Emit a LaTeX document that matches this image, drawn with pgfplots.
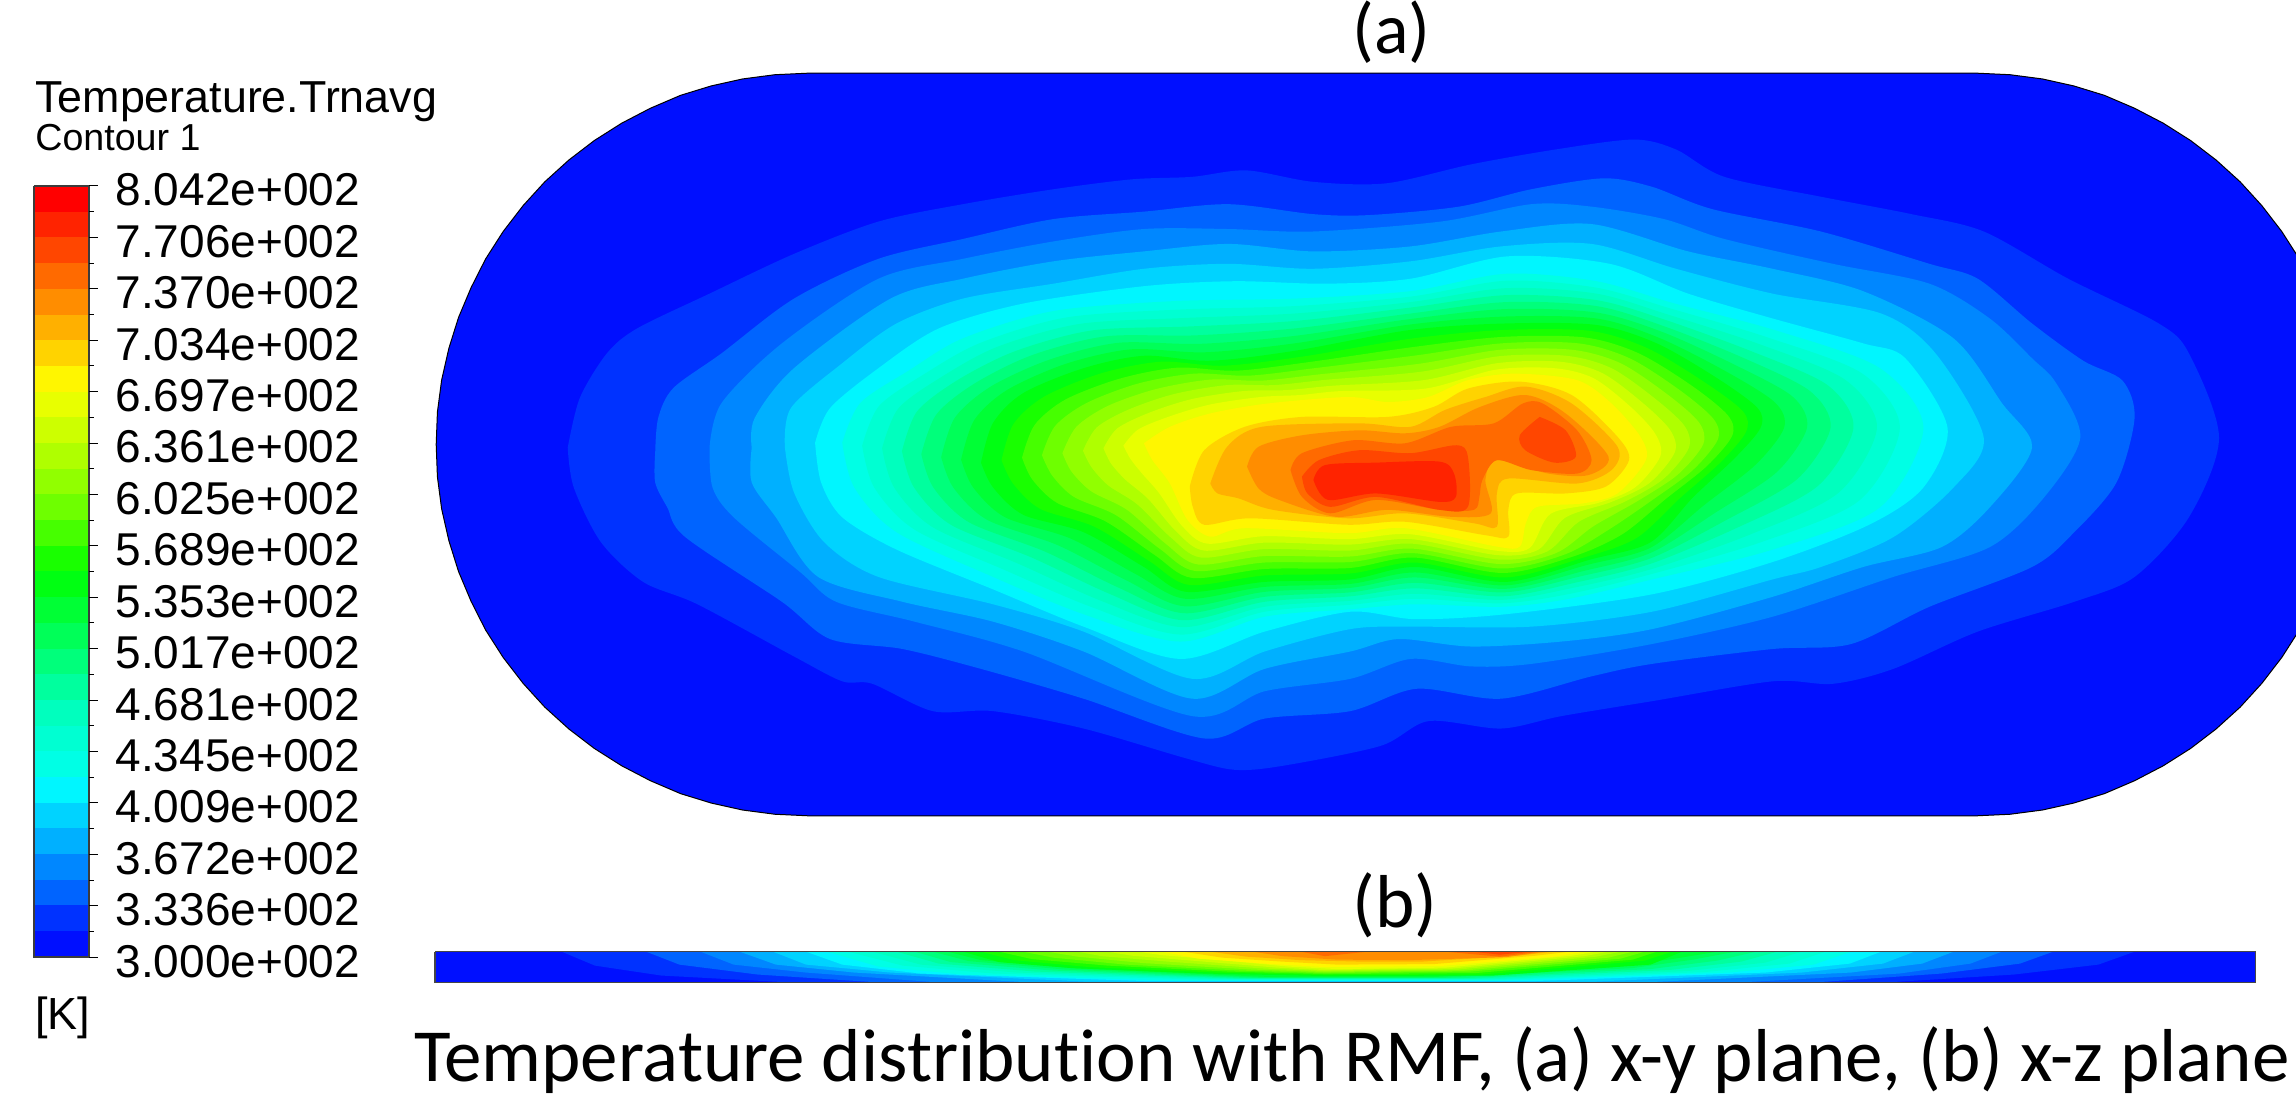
\documentclass[border=0pt]{standalone}
\usepackage{fontspec}
\setmainfont{Liberation Sans}
\newfontfamily\calfont[Ligatures=NoCommon]{Carlito}
\usepackage{pgfplots}
\pgfplotsset{compat=1.18}
\definecolor{c0}{RGB}{0,15,255}\definecolor{c1}{RGB}{0,50,255}\definecolor{c2}{RGB}{0,100,255}\definecolor{c3}{RGB}{0,135,255}\definecolor{c4}{RGB}{0,176,255}\definecolor{c5}{RGB}{0,211,255}\definecolor{c6}{RGB}{0,246,255}\definecolor{c7}{RGB}{0,255,229}\definecolor{c8}{RGB}{0,255,210}\definecolor{c9}{RGB}{0,255,190}\definecolor{c10}{RGB}{0,255,158}\definecolor{c11}{RGB}{0,255,123}\definecolor{c12}{RGB}{0,255,88}\definecolor{c13}{RGB}{0,255,53}\definecolor{c14}{RGB}{0,255,18}\definecolor{c15}{RGB}{25,255,0}\definecolor{c16}{RGB}{70,255,0}\definecolor{c17}{RGB}{110,255,0}\definecolor{c18}{RGB}{145,255,0}\definecolor{c19}{RGB}{175,255,0}\definecolor{c20}{RGB}{205,255,0}\definecolor{c21}{RGB}{232,255,0}\definecolor{c22}{RGB}{255,246,0}\definecolor{c23}{RGB}{255,211,0}\definecolor{c24}{RGB}{255,176,0}\definecolor{c25}{RGB}{255,141,0}\definecolor{c26}{RGB}{255,106,0}\definecolor{c27}{RGB}{255,70,0}\definecolor{c28}{RGB}{255,35,0}\definecolor{c29}{RGB}{255,0,0}
\newcommand\ring[2]{\addplot[fill=#1,draw=none,smooth,tension=0.5] coordinates {#2};}
\newcommand\poly[2]{\addplot[fill=#1,draw=none] coordinates {#2};}
\newcommand\band[3]{\addplot[fill=#1,draw=none] coordinates {(-640,#2)(-548.5,#2)(-548.5,#3)(-640,#3)};}
\newcommand\tick[2]{\addplot[black,line width=0.6pt] coordinates {(-548.5,#1)(#2,#1)};}
\newcommand\lab[2]{\node[anchor=base west,inner sep=0pt,font=\fontsize{23}{23}\selectfont] at (axis cs:-505,#1) {#2};}
\begin{document}
\begin{tikzpicture}
\begin{axis}[name=ax,hide axis,scale only axis,width=1148pt,height=549.5pt,xmin=-696,xmax=3109.6,ymin=-120.8,ymax=2090.4,y dir=reverse,clip=true]
\path (axis cs:-696,-120.8) rectangle (axis cs:3109.6,2090.4);
% stadium, x-y plane
\addplot[fill=c0,draw=black,line width=0.5pt] coordinates {(27,773.5)(29,708.5)(36,644)(48,580)(64,518)(85,457.5)(109,400)(138,345)(171,293)(207,245)(247,201)(289,162)(334.5,127)(382,97)(432,71)(483,52)(535,38)(588.5,29.5)(642,26.5)(2582,26.5)(2635.5,29.5)(2689,38)(2741,52)(2792,71)(2842,97)(2889.5,127)(2935,162)(2977,201)(3017,245)(3053,293)(3086,345)(3115,400)(3139,457.5)(3160,518)(3176,580)(3188,644)(3195,708.5)(3197,773.5)(3195,838.5)(3188,903)(3176,967)(3160,1029)(3139,1089.5)(3115,1147)(3086,1202)(3053,1254)(3017,1302)(2977,1346)(2935,1385)(2889.5,1420)(2842,1450)(2792,1476)(2741,1495)(2689,1509)(2635.5,1517.5)(2582,1520.5)(642,1520.5)(588.5,1517.5)(535,1509)(483,1495)(432,1476)(382,1450)(334.5,1420)(289,1385)(247,1346)(207,1302)(171,1254)(138,1202)(109,1147)(85,1089.5)(64,1029)(48,967)(36,903)(29,838.5)(27,773.5)};
\ring{c1}{(245,780)(265,680)(310,590)(360,540)(480,470)(620,390)(760,325)(900,290)(1050,260)(1180,240)(1280,235)(1370,222)(1480,245)(1602,248)(1742,210)(1882,180)(2012,160)(2082,180)(2162,235)(2322,275)(2472,310)(2592,345)(2732,440)(2882,530)(2932,590)(2982,760)(2932,920)(2842,1040)(2742,1090)(2582,1150)(2442,1225)(2342,1255)(2242,1250)(2042,1290)(1892,1320)(1792,1345)(1672,1330)(1592,1380)(1430,1420)(1350,1428)(1270,1405)(1100,1345)(950,1310)(850,1310)(750,1255)(700,1250)(620,1200)(460,1095)(370,1050)(300,970)(255,860)(245,780)}
\ring{c2}{(390,790)(395,720)(420,660)(500,590)(620,480)(760,400)(900,360)(1050,320)(1200,305)(1340,290)(1480,310)(1572,312)(1722,295)(1842,260)(1962,238)(2042,255)(2142,300)(2322,345)(2502,410)(2582,440)(2672,530)(2757,605)(2822,645)(2842,720)(2812,850)(2742,950)(2672,1020)(2502,1100)(2372,1175)(2242,1185)(2042,1215)(1942,1240)(1792,1285)(1652,1265)(1542,1310)(1400,1325)(1300,1365)(1100,1285)(930,1225)(800,1185)(680,1165)(600,1090)(440,960)(410,900)(390,850)(390,790)}
\ring{c3}{(480,780)(500,690)(600,570)(760,440)(900,400)(1050,365)(1200,340)(1340,340)(1480,345)(1692,325)(1842,290)(1942,295)(2062,320)(2162,360)(2342,410)(2502,450)(2602,520)(2672,600)(2712,650)(2752,760)(2692,880)(2602,980)(2442,1040)(2242,1120)(2042,1175)(1842,1215)(1742,1220)(1642,1205)(1542,1245)(1400,1270)(1280,1320)(1000,1190)(820,1130)(690,1090)(630,1030)(520,920)(485,860)(480,780)}
\ring{c4}{(550,780)(555,720)(620,620)(780,480)(900,440)(1050,405)(1200,385)(1340,370)(1480,385)(1642,375)(1792,345)(1942,330)(2102,385)(2242,420)(2392,465)(2542,560)(2622,690)(2672,780)(2602,900)(2522,980)(2392,1020)(2242,1080)(2042,1145)(1892,1170)(1742,1180)(1622,1165)(1542,1190)(1400,1225)(1280,1285)(1100,1190)(950,1130)(800,1090)(660,1040)(590,920)(550,850)(550,780)}
\ring{c5}{(605,780)(615,700)(700,610)(790,530)(900,480)(1050,450)(1200,420)(1340,410)(1480,420)(1642,405)(1792,375)(1942,370)(2082,420)(2242,470)(2422,510)(2512,590)(2592,760)(2542,860)(2442,960)(2322,1020)(2242,1045)(2042,1110)(1842,1140)(1642,1140)(1542,1145)(1400,1190)(1280,1245)(1100,1150)(950,1095)(760,1040)(670,970)(620,870)(605,780)}
\ring{c6}{(655,770)(680,700)(760,620)(860,540)(1000,490)(1200,455)(1350,445)(1500,450)(1642,440)(1802,395)(1972,410)(2102,470)(2242,520)(2392,570)(2462,600)(2532,740)(2492,860)(2402,935)(2242,1010)(2042,1075)(1800,1115)(1650,1125)(1542,1110)(1400,1150)(1260,1205)(1100,1140)(950,1065)(790,985)(700,920)(665,850)(655,770)}
\ring{c7}{(700,770)(730,690)(810,625)(900,560)(1050,505)(1250,485)(1450,480)(1642,465)(1800,430)(1950,445)(2080,490)(2250,545)(2420,620)(2492,740)(2420,900)(2242,985)(2042,1045)(1900,1085)(1792,1100)(1650,1095)(1542,1105)(1400,1120)(1260,1170)(1100,1115)(950,1040)(790,950)(720,860)(700,770)}
\ring{c8}{(733,776)(761,696)(837,631)(929,569)(1071,518)(1259,502)(1450,495)(1642,476)(1800,444)(1950,458)(2076,501)(2236,559)(2391,631)(2453,740)(2386,886)(2223,970)(2042,1034)(1906,1074)(1793,1093)(1650,1084)(1542,1096)(1400,1110)(1261,1156)(1114,1101)(971,1027)(820,945)(753,860)(733,776)}
\ring{c9}{(766,781)(793,701)(864,638)(957,577)(1093,531)(1267,519)(1450,510)(1642,487)(1800,459)(1950,470)(2071,513)(2221,572)(2362,643)(2415,740)(2351,871)(2204,955)(2042,1024)(1911,1062)(1794,1086)(1650,1074)(1542,1088)(1400,1100)(1263,1141)(1129,1088)(993,1014)(850,940)(786,860)(766,781)}
\ring{c10}{(799,787)(824,707)(891,644)(986,586)(1114,544)(1276,536)(1450,525)(1642,498)(1800,473)(1950,483)(2067,524)(2207,586)(2333,654)(2376,740)(2317,857)(2185,940)(2041,1013)(1917,1051)(1795,1079)(1650,1063)(1542,1079)(1400,1090)(1264,1127)(1143,1074)(1014,1001)(880,935)(819,860)(799,787)}
\ring{c11}{(831,793)(856,713)(919,651)(1014,594)(1136,556)(1284,554)(1450,540)(1642,510)(1800,487)(1950,495)(2063,536)(2193,599)(2304,666)(2338,740)(2283,843)(2166,925)(2041,1002)(1923,1039)(1797,1071)(1650,1052)(1542,1071)(1400,1080)(1266,1113)(1157,1061)(1036,989)(910,930)(851,860)(831,793)}
\ring{c12}{(864,799)(887,719)(946,657)(1043,603)(1157,569)(1293,571)(1450,555)(1642,521)(1800,501)(1950,508)(2059,547)(2179,613)(2275,677)(2299,740)(2249,829)(2148,910)(2041,991)(1929,1028)(1798,1064)(1650,1041)(1542,1062)(1400,1070)(1267,1099)(1171,1047)(1057,976)(940,925)(884,860)(864,799)}
\ring{c13}{(897,804)(919,724)(973,664)(1071,611)(1179,582)(1301,588)(1450,570)(1642,532)(1800,516)(1950,520)(2054,559)(2164,626)(2246,689)(2261,740)(2214,814)(2129,895)(2040,981)(1934,1016)(1799,1057)(1650,1031)(1542,1054)(1400,1060)(1269,1084)(1186,1034)(1079,963)(970,920)(917,860)(897,804)}
\ring{c14}{(930,810)(950,730)(1000,670)(1100,620)(1200,595)(1310,605)(1450,585)(1642,543)(1800,530)(1950,533)(2050,570)(2150,640)(2217,700)(2222,740)(2180,800)(2110,880)(2040,970)(1940,1005)(1800,1050)(1650,1020)(1542,1045)(1400,1050)(1270,1070)(1200,1020)(1100,950)(1000,915)(950,860)(930,810)}
\ring{c15}{(964,805)(984,732)(1035,677)(1130,630)(1228,607)(1331,615)(1461,597)(1646,560)(1798,543)(1940,545)(2035,580)(2129,648)(2193,707)(2198,748)(2156,809)(2088,882)(2016,962)(1926,1002)(1798,1041)(1649,1011)(1542,1033)(1400,1037)(1275,1056)(1209,1008)(1118,939)(1028,903)(983,852)(964,805)}
\ring{c16}{(998,800)(1019,734)(1070,683)(1160,641)(1255,619)(1353,625)(1472,608)(1649,577)(1795,557)(1930,558)(2020,590)(2109,656)(2168,715)(2175,756)(2133,817)(2065,883)(1993,954)(1911,999)(1795,1032)(1648,1001)(1541,1022)(1400,1024)(1280,1042)(1218,996)(1136,928)(1056,891)(1015,844)(998,800)}
\ring{c17}{(1031,795)(1053,736)(1105,690)(1190,651)(1283,631)(1374,635)(1483,620)(1653,594)(1793,570)(1920,570)(2005,600)(2088,664)(2144,722)(2151,764)(2109,826)(2043,885)(1969,946)(1897,995)(1793,1023)(1646,992)(1541,1010)(1400,1011)(1285,1028)(1227,984)(1154,916)(1084,879)(1048,836)(1031,795)}
\ring{c18}{(1065,791)(1088,738)(1140,696)(1220,662)(1310,643)(1395,645)(1494,632)(1657,611)(1790,583)(1910,583)(1990,610)(2068,673)(2120,729)(2127,773)(2085,834)(2020,886)(1945,938)(1883,992)(1790,1014)(1645,983)(1540,999)(1400,998)(1290,1015)(1236,973)(1172,905)(1113,868)(1080,828)(1065,791)}
\ring{c19}{(1099,786)(1122,739)(1175,703)(1250,672)(1338,654)(1416,654)(1505,643)(1660,627)(1788,596)(1900,595)(1975,620)(2047,681)(2096,736)(2103,781)(2061,843)(1998,888)(1921,929)(1868,989)(1788,1005)(1644,973)(1540,987)(1400,984)(1295,1001)(1245,961)(1189,894)(1141,856)(1113,819)(1099,786)}
\ring{c20}{(1133,781)(1156,741)(1210,709)(1280,682)(1365,666)(1438,664)(1516,655)(1664,644)(1785,610)(1890,607)(1960,630)(2026,689)(2072,744)(2080,789)(2038,851)(1975,889)(1898,921)(1854,985)(1785,996)(1643,964)(1539,975)(1400,971)(1300,987)(1254,949)(1207,883)(1169,844)(1145,811)(1133,781)}
\ring{c21}{(1166,776)(1191,743)(1245,716)(1310,693)(1393,678)(1459,674)(1527,666)(1667,661)(1783,623)(1880,620)(1945,640)(2006,697)(2047,751)(2056,797)(2014,860)(1953,891)(1874,913)(1839,982)(1783,987)(1641,954)(1539,964)(1400,958)(1305,973)(1263,937)(1225,871)(1197,832)(1178,803)(1166,776)}
\ring{c22}{(1200,771)(1243,738)(1310,711)(1405,691)(1538,678)(1604,688)(1671,678)(1737,644)(1814,631)(1918,644)(1975,691)(2023,758)(2032,805)(1985,872)(1928,892)(1852,899)(1833,932)(1823,979)(1785,979)(1633,942)(1538,952)(1367,942)(1310,959)(1272,925)(1243,852)(1214,805)(1200,771)}
\ring{c23}{(1276,858)(1300,785)(1367,738)(1462,718)(1604,718)(1680,698)(1737,661)(1823,647)(1909,674)(1985,758)(2004,805)(1966,858)(1899,872)(1818,872)(1804,905)(1804,959)(1766,956)(1633,929)(1538,935)(1376,922)(1300,935)(1281,899)(1276,858)}
\ring{c24}{(1310,852)(1338,778)(1395,738)(1557,731)(1642,738)(1699,704)(1766,678)(1833,657)(1909,691)(1985,778)(1975,825)(1918,852)(1804,842)(1785,872)(1785,939)(1747,932)(1633,912)(1538,922)(1414,905)(1357,882)(1322,872)(1310,852)}
\ring{c25}{(1371,818)(1390,778)(1462,755)(1557,745)(1633,751)(1690,738)(1757,698)(1833,674)(1899,711)(1970,798)(1937,835)(1870,832)(1785,805)(1766,845)(1775,912)(1709,919)(1604,905)(1518,919)(1424,885)(1390,862)(1371,818)}
\ring{c26}{(1443,825)(1462,791)(1547,765)(1633,771)(1709,738)(1780,731)(1828,691)(1861,691)(1918,745)(1942,805)(1918,832)(1842,825)(1785,805)(1761,845)(1756,879)(1747,905)(1690,905)(1585,885)(1509,912)(1462,879)(1443,825)}
\ring{c27}{(1462,838)(1490,805)(1557,785)(1642,791)(1718,775)(1737,798)(1737,899)(1690,905)(1585,879)(1509,899)(1471,872)(1462,838)}
\ring{c27}{(1856,718)(1899,745)(1916,798)(1880,810)(1832,785)(1823,755)(1856,718)}
\ring{c28}{(1481,845)(1500,815)(1585,810)(1690,808)(1714,832)(1717,879)(1690,889)(1585,872)(1505,885)(1481,845)}
% strip, x-z plane
\poly{c0}{(25,1794)(3042,1794)(3042,1856)(25,1856)}
\poly{c1}{(235,1794)(290,1822)(400,1842)(600,1855)(2442,1855)(2642,1840)(2782,1820)(2842,1794)}
\poly{c2}{(375,1794)(430,1820)(560,1840)(750,1855)(2322,1855)(2522,1838)(2652,1818)(2707,1794)}
\poly{c3}{(465,1794)(520,1820)(640,1836)(850,1855)(2200,1855)(2452,1838)(2570,1818)(2622,1794)}
\poly{c4}{(530,1794)(590,1820)(720,1836)(1000,1855)(2042,1855)(2372,1836)(2490,1818)(2542,1794)}
\poly{c5}{(585,1794)(640,1820)(780,1836)(1100,1854)(1950,1854)(2290,1836)(2425,1818)(2477,1794)}
\poly{c6}{(640,1794)(700,1820)(830,1838)(1200,1853)(1850,1853)(2230,1836)(2370,1818)(2422,1794)}
\poly{c7}{(675,1794)(760,1824)(900,1840)(1250,1852)(1800,1852)(2170,1836)(2310,1820)(2372,1794)}
\poly{c8}{(710,1794)(800,1822)(950,1838)(1290,1850)(1800,1850)(2130,1835)(2270,1818)(2330,1794)}
\poly{c9}{(750,1794)(830,1820)(990,1836)(1320,1849)(1780,1849)(2100,1833)(2230,1816)(2290,1794)}
\poly{c10}{(790,1794)(860,1818)(1020,1834)(1350,1848)(1750,1848)(2070,1831)(2190,1814)(2250,1794)}
\poly{c11}{(820,1794)(880,1815)(1050,1832)(1370,1847)(1730,1847)(2040,1829)(2150,1812)(2215,1794)}
\poly{c12}{(850,1794)(910,1813)(1070,1830)(1390,1846)(1700,1846)(2010,1827)(2110,1810)(2180,1794)}
\poly{c13}{(875,1794)(930,1811)(1090,1828)(1410,1845)(1680,1845)(1980,1825)(2080,1808)(2150,1794)}
\poly{c14}{(900,1794)(960,1815)(1080,1827)(1300,1838)(1500,1843)(1780,1842)(2040,1820)(2092,1794)}
\poly{c15}{(930,1794)(985,1811)(1110,1825)(1320,1836)(1500,1841)(1760,1840)(2030,1812)(2075,1794)}
\poly{c16}{(960,1794)(1015,1809)(1140,1822)(1340,1834)(1500,1839)(1750,1837)(2010,1810)(2050,1794)}
\poly{c17}{(1000,1794)(1050,1806)(1170,1820)(1360,1832)(1500,1837)(1740,1834)(1990,1808)(2030,1794)}
\poly{c18}{(1040,1794)(1090,1804)(1200,1817)(1380,1830)(1500,1835)(1730,1832)(1970,1806)(2010,1794)}
\poly{c19}{(1090,1794)(1130,1803)(1240,1814)(1400,1828)(1500,1833)(1720,1830)(1950,1804)(1990,1794)}
\poly{c20}{(1140,1794)(1180,1802)(1280,1812)(1420,1826)(1500,1831)(1710,1828)(1930,1803)(1970,1794)}
\poly{c21}{(1190,1794)(1230,1801)(1320,1810)(1440,1824)(1520,1829)(1700,1826)(1910,1802)(1950,1794)}
\poly{c22}{(1230,1794)(1290,1808)(1400,1818)(1500,1825)(1690,1823)(1880,1804)(1932,1794)}
\poly{c23}{(1265,1794)(1330,1806)(1430,1814)(1520,1820)(1680,1819)(1850,1802)(1905,1794)}
\poly{c24}{(1310,1794)(1370,1804)(1460,1811)(1560,1814)(1660,1814)(1820,1802)(1880,1794)}
\poly{c25}{(1380,1794)(1430,1803)(1520,1810)(1640,1811)(1800,1805)(1865,1794)}
\poly{c26}{(1460,1794)(1500,1803)(1570,1794)}
\poly{c26}{(1700,1794)(1790,1804)(1855,1794)}
\poly{c27}{(1745,1794)(1790,1800)(1840,1794)}
\addplot[draw={rgb,255:red,70;green,70;blue,70},line width=0.7pt] coordinates {(25,1794)(3042,1794)(3042,1856)(25,1856)(25,1794)};
% colour bar
\band{c29}{253}{305}\band{c28}{305}{357}\band{c27}{357}{409}\band{c26}{409}{460}\band{c25}{460}{512}\band{c24}{512}{564}\band{c23}{564}{615}\band{c22}{615}{667}\band{c21}{667}{719}\band{c20}{719}{771}\band{c19}{771}{822}\band{c18}{822}{874}\band{c17}{874}{926}\band{c16}{926}{977}\band{c15}{977}{1029}\band{c14}{1029}{1081}\band{c13}{1081}{1132}\band{c12}{1132}{1184}\band{c11}{1184}{1236}\band{c10}{1236}{1288}\band{c9}{1288}{1339}\band{c8}{1339}{1391}\band{c7}{1391}{1443}\band{c6}{1443}{1494}\band{c5}{1494}{1546}\band{c4}{1546}{1598}\band{c3}{1598}{1650}\band{c2}{1650}{1701}\band{c1}{1701}{1753}\band{c0}{1753}{1805}
\addplot[draw={rgb,255:red,60;green,60;blue,60},line width=0.8pt] coordinates {(-640,253)(-548.5,253)(-548.5,1805)(-640,1805)(-640,253)};
\tick{253}{-533.6}\tick{305}{-540}\tick{357}{-533.6}\tick{409}{-540}\tick{460}{-533.6}\tick{512}{-540}\tick{564}{-533.6}\tick{615}{-540}\tick{667}{-533.6}\tick{719}{-540}\tick{771}{-533.6}\tick{822}{-540}\tick{874}{-533.6}\tick{926}{-540}\tick{977}{-533.6}\tick{1029}{-540}\tick{1081}{-533.6}\tick{1132}{-540}\tick{1184}{-533.6}\tick{1236}{-540}\tick{1288}{-533.6}\tick{1339}{-540}\tick{1391}{-533.6}\tick{1443}{-540}\tick{1494}{-533.6}\tick{1546}{-540}\tick{1598}{-533.6}\tick{1650}{-540}\tick{1701}{-533.6}\tick{1753}{-540}\tick{1805}{-533.6}
\lab{293}{8.042e+002}\lab{396.5}{7.706e+002}\lab{500}{7.370e+002}\lab{604}{7.034e+002}\lab{707}{6.697e+002}\lab{810.6}{6.361e+002}\lab{914}{6.025e+002}\lab{1017.6}{5.689e+002}\lab{1121}{5.353e+002}\lab{1224.6}{5.017e+002}\lab{1328}{4.681e+002}\lab{1431.6}{4.345e+002}\lab{1535}{4.009e+002}\lab{1638.7}{3.672e+002}\lab{1742}{3.336e+002}\lab{1846}{3.000e+002}
\node[anchor=base west,inner sep=0pt,font=\fontsize{22.4}{22.4}\selectfont] at (axis cs:-638,106) {Temperature.Trnavg};
\node[anchor=base west,inner sep=0pt,font=\fontsize{18.8}{18.8}\selectfont] at (axis cs:-638,181) {Contour 1};
\node[anchor=base west,inner sep=0pt,font=\fontsize{22.5}{22.5}\selectfont] at (axis cs:-638,1951) {[K]};
\node[anchor=base,inner sep=0pt,font=\calfont\fontsize{36}{36}\selectfont] at (axis cs:1610,-13) {(a)};
\node[anchor=base,inner sep=0pt,font=\calfont\fontsize{37.5}{37.5}\selectfont] at (axis cs:1616,1746) {(b)};
\node[anchor=base west,inner sep=0pt,font=\calfont\fontsize{37.5}{37.5}\selectfont] at (axis cs:-10,2056) {Temperature distribution with RMF, (a) x-y plane, (b) x-z plane};
\end{axis}
\pgfresetboundingbox
\path (ax.south west) rectangle (ax.north east);
\end{tikzpicture}
\end{document}
